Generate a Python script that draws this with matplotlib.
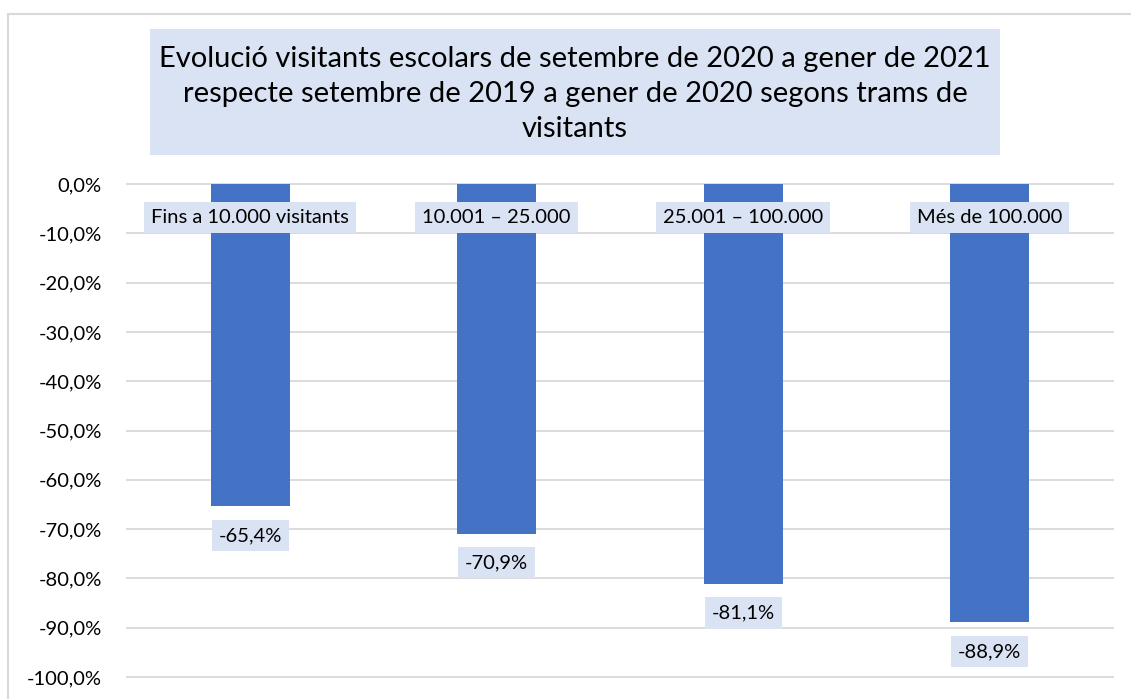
import matplotlib
matplotlib.use("Agg")
import matplotlib.pyplot as plt
from matplotlib.patches import Rectangle
from matplotlib.ticker import FuncFormatter

categories = ["Fins a 10.000 visitants", "10.001 \u2013 25.000", "25.001 \u2013 100.000", "Més de 100.000"]
values = [-65.4, -70.9, -81.1, -88.9]
yticks = [0, -10, -20, -30, -40, -50, -60, -70, -80, -90, -100]
title = ("Evolució visitants escolars de setembre de 2020 a gener de 2021\n"
         "respecte setembre de 2019 a gener de 2020 segons trams de\n"
         "visitants")

BLUE = "#4472C4"
LABEL_BG = "#DAE3F3"
GRID = "#D9D9D9"
FONT = ["Lato", "DejaVu Sans"]

plt.rcParams["font.family"] = FONT

W, H = 1131, 699
fig = plt.figure(figsize=(W / 100, H / 100), dpi=100)

# outer chart frame (only left/top visible in the crop)
fig.patches.append(Rectangle((8 / W, -0.1), 1.2, 1 - 14 / H + 0.1, transform=fig.transFigure,
                             fill=False, edgecolor=GRID, linewidth=1.5))

ax = fig.add_axes([127 / W, 1 - 677 / H, (1113 - 127) / W, (677 - 184) / H])
x = range(len(categories))
ax.bar(x, values, width=0.32, color=BLUE, zorder=3)
ax.set_xlim(-0.5, len(categories) - 0.5)
ax.set_ylim(-100, 0)
ax.set_yticks(yticks)
ax.yaxis.set_major_formatter(FuncFormatter(lambda v, p: f"{v:.1f}%".replace(".", ",")))
ax.tick_params(axis="y", length=0, labelsize=14.5, pad=18, colors="#000000")
ax.set_xticks([])
for s in ax.spines.values():
    s.set_visible(False)
ax.yaxis.grid(True, color=GRID, linewidth=1.3, zorder=0)
for gl in ax.get_ygridlines():
    gl.set_clip_on(False)

box = dict(boxstyle="square,pad=0.35", facecolor=LABEL_BG, edgecolor="none")
for i, (cat, v) in enumerate(zip(categories, values)):
    ax.annotate(cat, (i, 0), xytext=(0, -24), textcoords="offset points",
                ha="center", va="center", fontsize=14.5, bbox=box, zorder=4)
    ax.annotate(f"{v:.1f}%".replace(".", ","), (i, v), xytext=(0, -21), textcoords="offset points",
                ha="center", va="center", fontsize=14.5, bbox=box, zorder=4)

fig.patches.append(Rectangle((150 / W, 1 - 155 / H), (1000 - 150) / W, (155 - 29) / H,
                             transform=fig.transFigure, facecolor=LABEL_BG, edgecolor="none"))
fig.text(575 / W, 1 - 94 / H, title, ha="center", va="center", fontsize=21,
         linespacing=1.45)

fig.savefig("out.png", dpi=100)
